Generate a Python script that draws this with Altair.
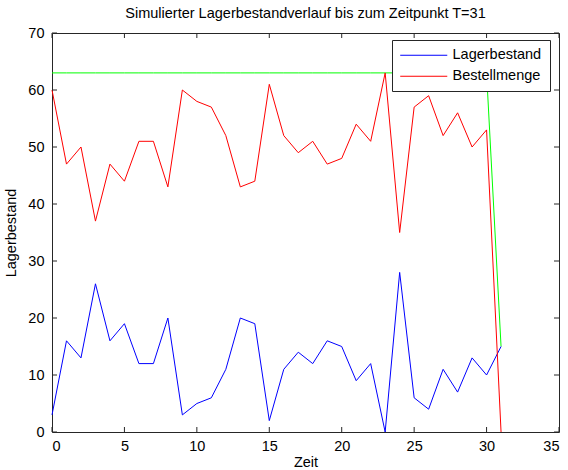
import altair as alt
import pandas as pd

# Simulated inventory run up to T=31
zeit = list(range(32))
lagerbestand = [3, 16, 13, 26, 16, 19, 12, 12, 20, 3, 5, 6, 11, 20, 19, 2,
                11, 14, 12, 16, 15, 9, 12, 0, 28, 6, 4, 11, 7, 13, 10, 15]
bestellmenge = [60, 47, 50, 37, 47, 44, 51, 51, 43, 60, 58, 57, 52, 43, 44, 61,
                52, 49, 51, 47, 48, 54, 51, 63, 35, 57, 59, 52, 56, 50, 53, 0]
grenze = [63] * 31 + [15]

x_ticks = [0, 5, 10, 15, 20, 25, 30, 35]
y_ticks = [0, 10, 20, 30, 40, 50, 60, 70]

W, H = 507, 399
FONT = "Liberation Sans"
FS = 14.5
FRAME = "#262626"

series = pd.DataFrame({
    "Zeit": zeit * 2,
    "Wert": lagerbestand + bestellmenge,
    "Reihe": ["Lagerbestand"] * len(zeit) + ["Bestellmenge"] * len(zeit),
})
limit = pd.DataFrame({"Zeit": zeit, "Wert": grenze})
xt = pd.DataFrame({"t": x_ticks})
yt = pd.DataFrame({"t": y_ticks})

xs = alt.Scale(domain=[0, 35], nice=False)
ys = alt.Scale(domain=[0, 70], nice=False)

x_axis = alt.Axis(values=x_ticks, format="d", domain=False, ticks=False, grid=False,
                  labelPadding=7, titlePadding=3, title="Zeit")
y_axis = alt.Axis(values=y_ticks, format="d", domain=False, ticks=False, grid=False,
                  labelPadding=8, titlePadding=9, title="Lagerbestand")

lines = alt.Chart(series).mark_line(strokeWidth=1).encode(
    x=alt.X("Zeit:Q", scale=xs, axis=x_axis),
    y=alt.Y("Wert:Q", scale=ys, axis=y_axis),
    color=alt.Color(
        "Reihe:N",
        scale=alt.Scale(domain=["Lagerbestand", "Bestellmenge"], range=["#0000ff", "#ff0000"]),
        legend=alt.Legend(
            title=None, orient="none", legendX=340, legendY=7,
            symbolType="M-1.17,0H6.67", symbolSize=144, symbolStrokeWidth=1,
            labelOffset=38, labelFont=FONT, labelFontSize=FS, labelColor="#000",
            strokeColor=FRAME, fillColor="#ffffff", padding=8, rowPadding=6,
        ),
    ),
    order=alt.Order("Zeit:Q"),
)

green = alt.Chart(limit).mark_line(strokeWidth=1, color="#00ff00").encode(
    x=alt.X("Zeit:Q", scale=xs),
    y=alt.Y("Wert:Q", scale=ys),
)

# inward tick marks on all four sides of the box
tick_len = 5
tb = alt.Chart(xt).mark_rule(color=FRAME).encode(
    x=alt.X("t:Q", scale=xs), y=alt.value(H), y2=alt.value(H - tick_len))
tt = alt.Chart(xt).mark_rule(color=FRAME).encode(
    x=alt.X("t:Q", scale=xs), y=alt.value(0), y2=alt.value(tick_len))
tl = alt.Chart(yt).mark_rule(color=FRAME).encode(
    y=alt.Y("t:Q", scale=ys), x=alt.value(0), x2=alt.value(tick_len))
tr = alt.Chart(yt).mark_rule(color=FRAME).encode(
    y=alt.Y("t:Q", scale=ys), x=alt.value(W), x2=alt.value(W - tick_len))

chart = alt.layer(green, lines, tb, tt, tl, tr).properties(
    width=W, height=H,
    title=alt.TitleParams("Simulierter Lagerbestandverlauf bis zum Zeitpunkt T=31",
                          font=FONT, fontSize=FS, fontWeight="normal", color="#000",
                          anchor="middle", offset=4),
    autosize=alt.AutoSizeParams(type="none"),
    padding={"left": 52, "top": 33, "right": 9, "bottom": 38},
    background="#ffffff",
).configure_view(
    stroke=FRAME, strokeWidth=1
).configure_axis(
    labelFont=FONT, labelFontSize=FS, labelColor="#000",
    titleFont=FONT, titleFontSize=FS, titleFontWeight="normal", titleColor="#000",
)

chart.save("out.html", embed_options={"renderer": "svg", "actions": False})
